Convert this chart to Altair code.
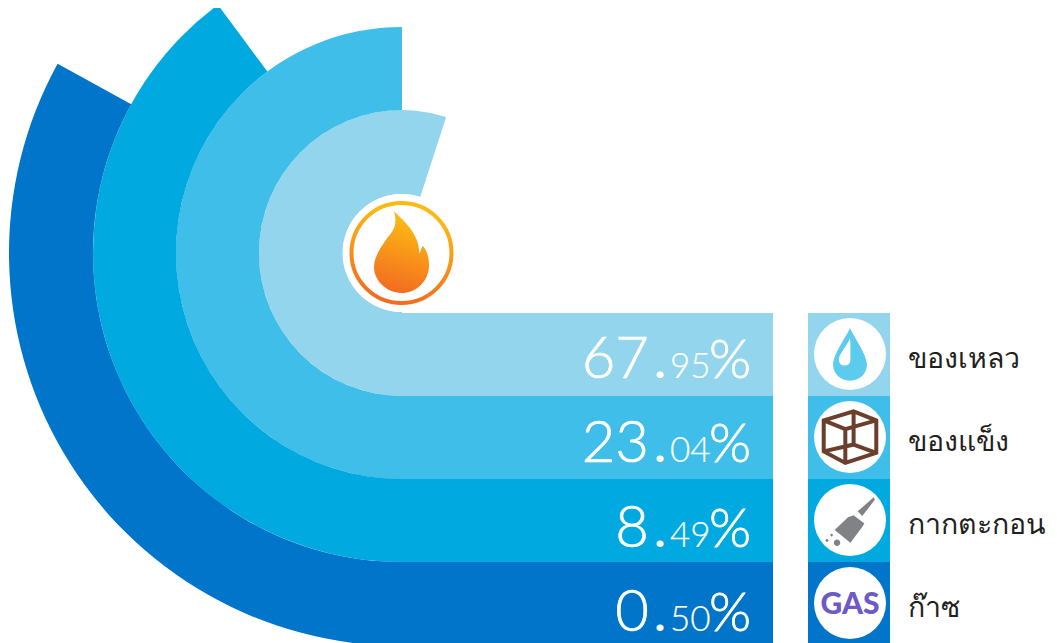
import altair as alt
import pandas as pd

# ---- values ----
labels = ["ของเหลว", "ของแข็ง", "กากตะกอน", "ก๊าซ"]
whole = ["67", "23", "8", "0"]
decimals = ["95", "04", "49", "50"]
colors = ["#92D5EC", "#3FBEE9", "#00A9E0", "#0075C9"]
row_top = [313, 396, 479, 562]
row_bottom = [396, 479, 562, 646]
baselines = [378, 462, 547, 631]
icon_y = [354, 437, 520, 603]
arc_inner = [59, 143, 226, 309]
arc_outer = [143, 226, 309, 393]
arc_end = [6.597, 6.283, 5.645, 5.215]
arc_start = 3.1416
CX, CY = 402, 253

FLAME = ("M-0.15,-0.833 C0.1,-0.6 0.36,-0.35 0.357,0.02 L0.423,-0.147 C0.517,-0.047 0.55,0.087 0.55,0.253 "
         "C0.55,0.553 0.3,0.8 0.003,0.8 C-0.297,0.8 -0.55,0.553 -0.55,0.287 C-0.55,0.08 -0.42,-0.1 -0.32,-0.25 "
         "C-0.2,-0.42 -0.06,-0.5 -0.15,-0.833 Z")
DROP = ("M0,-0.72 C0.12,-0.45 0.47,0.02 0.47,0.3 C0.47,0.56 0.25,0.74 0,0.74 C-0.25,0.74 -0.47,0.56 -0.47,0.3 "
        "C-0.47,0.02 -0.12,-0.45 0,-0.72 Z "
        "M0,-0.44 C-0.1,-0.2 -0.31,0 -0.31,0.15 C-0.31,0.27 -0.24,0.32 -0.15,0.32 C-0.05,0.32 0.01,0.26 0.01,0.16 "
        "C0.01,0 0.02,-0.25 0,-0.44 Z")
CUBE = ("M-0.73,-0.46 L0.1,-0.71 L0.73,-0.46 L0.73,0.44 L-0.13,0.72 L-0.73,0.4 Z "
        "M-0.73,-0.46 L-0.13,-0.22 L0.73,-0.46 M-0.13,-0.22 L-0.13,0.72 "
        "M0.1,-0.71 L0.1,0.21 L-0.73,0.4 M0.1,0.21 L0.73,0.44")
BROOM = ("M0.657,-0.63 L0.69,-0.56 L0.34,-0.11 L0.213,-0.24 Z "
         "M-0.056,-0.074 L0.1,-0.13 L0.4,0.1 L0.333,0.204 L0.01,0.63 L-0.426,0.278 Z "
         "M-0.45,0.63 a0.09,0.09 0 1,0 0.18,0 a0.09,0.09 0 1,0 -0.18,0 Z "
         "M-0.68,0.57 a0.04,0.04 0 1,0 0.08,0 a0.04,0.04 0 1,0 -0.08,0 Z "
         "M-0.545,0.42 a0.035,0.035 0 1,0 0.07,0 a0.035,0.035 0 1,0 -0.07,0 Z")

rows = pd.DataFrame({
    "label": labels, "whole": whole, "dec": decimals, "color": colors,
    "top": row_top, "bottom": row_bottom, "base": baselines, "iy": icon_y,
    "inner": arc_inner, "outer": arc_outer, "end": arc_end,
    "start": [arc_start] * 4, "cx": [CX] * 4, "cy": [CY] * 4,
})
rows["bar_l"] = CX - 2
rows["bar_r"] = 773
rows["sq_l"] = 808
rows["sq_r"] = 890
rows["ix"] = 850
rows["whole_x"] = 649
rows["dot_x"] = 660
rows["dec_x"] = 670
rows["pct_x"] = 751
rows["lab_x"] = 908
rows["lab_y"] = rows["iy"] + 14

X = alt.Scale(domain=[8, 1049], range=[0, 1041], nice=False, zero=False)
Y = alt.Scale(domain=[8, 643], range=[0, 635], nice=False, zero=False)


def px(field):
    return alt.X(f"{field}:Q", scale=X, axis=None)


def py(field):
    return alt.Y(f"{field}:Q", scale=Y, axis=None)


base = alt.Chart(rows)
col = alt.Color("color:N", scale=None, legend=None)

arcs = base.mark_arc(stroke=None).encode(
    x=px("cx"), y=py("cy"),
    theta=alt.Theta("start:Q", scale=None), theta2="end:Q",
    radius=alt.Radius("outer:Q", scale=None), radius2="inner:Q",
    color=col,
)
bars = base.mark_rect().encode(x=px("bar_l"), x2="bar_r:Q", y=py("top"), y2="bottom:Q", color=col)
squares = base.mark_rect().encode(x=px("sq_l"), x2="sq_r:Q", y=py("top"), y2="bottom:Q", color=col)

FONT = "Lato"
txt = dict(color="white", font=FONT, baseline="alphabetic", stroke="white")
t_whole = base.mark_text(align="right", fontSize=58, fontWeight=300, strokeWidth=0.7, **txt).encode(x=px("whole_x"), y=py("base"), text="whole:N")
t_dot = base.mark_text(align="center", fontSize=44, fontWeight=700, font="Roboto", color="white", baseline="alphabetic").encode(x=px("dot_x"), y=py("base"), text=alt.value("."))
t_dec = base.mark_text(align="left", fontSize=35, fontWeight=300, strokeWidth=0.2, **txt).encode(x=px("dec_x"), y=py("base"), text="dec:N")
t_pct = base.mark_text(align="right", fontSize=54, fontWeight=300, strokeWidth=0.8, **txt).encode(x=px("pct_x"), y=py("base"), text=alt.value("%"))
t_lab = base.mark_text(align="left", fontSize=28.5, color="#231F20", font="Noto Sans", baseline="alphabetic").encode(x=px("lab_x"), y=py("lab_y"), text="label:N")

icon_circles = base.mark_point(shape="circle", filled=True, fill="white", opacity=1, size=5184).encode(x=px("ix"), y=py("iy"))

center = pd.DataFrame({"x": [401.5], "y": [253]})
cbase = alt.Chart(center)
halo = cbase.mark_point(shape="circle", filled=True, fill="white", opacity=1, size=13924).encode(x=px("x"), y=py("y"))
grad_stops = [alt.GradientStop(color="#FDB913", offset=0.1), alt.GradientStop(color="#F26B21", offset=1)]
ring_grad = alt.LinearGradient(gradient="linear", stops=grad_stops, x1=0.6, y1=0, x2=0.4, y2=1)
ring = cbase.mark_point(shape="circle", filled=False, fill="white", stroke=ring_grad, strokeWidth=4, opacity=1, size=10000).encode(x=px("x"), y=py("y"))
flame = cbase.mark_point(shape=FLAME, filled=True, fill=ring_grad, opacity=1, size=10000).encode(x=px("x"), y=py("y"))


def icon(i):
    return alt.Chart(rows.iloc[[i]])


drop = icon(0).mark_point(shape=DROP, filled=True, fill="#5BCBEE", opacity=1, size=5184).encode(x=px("ix"), y=py("iy"))
cube = icon(1).mark_point(shape=CUBE, filled=False, stroke="#6B3F2C", strokeWidth=4, opacity=1, size=5184).encode(x=px("ix"), y=py("iy"))
broom = icon(2).mark_point(shape=BROOM, filled=True, fill="#808285", opacity=1, size=5184).encode(x=px("ix"), y=py("iy"))
gas = icon(3).mark_text(text="GAS", font="Lato", fontWeight=900, fontSize=30, dy=2, color="#6E5AC6", baseline="middle", align="center").encode(x=px("ix"), y=py("iy"))

chart = alt.layer(
    arcs, bars, squares, halo, ring, flame,
    t_whole, t_dot, t_dec, t_pct, t_lab,
    icon_circles, drop, cube, broom, gas,
).properties(
    width=1041, height=635, padding=0,
    autosize=alt.AutoSizeParams(type="none", contains="content"),
    background="white",
).configure_view(stroke=None)

chart.save("out.html", embed_options={"renderer": "svg", "actions": False})
